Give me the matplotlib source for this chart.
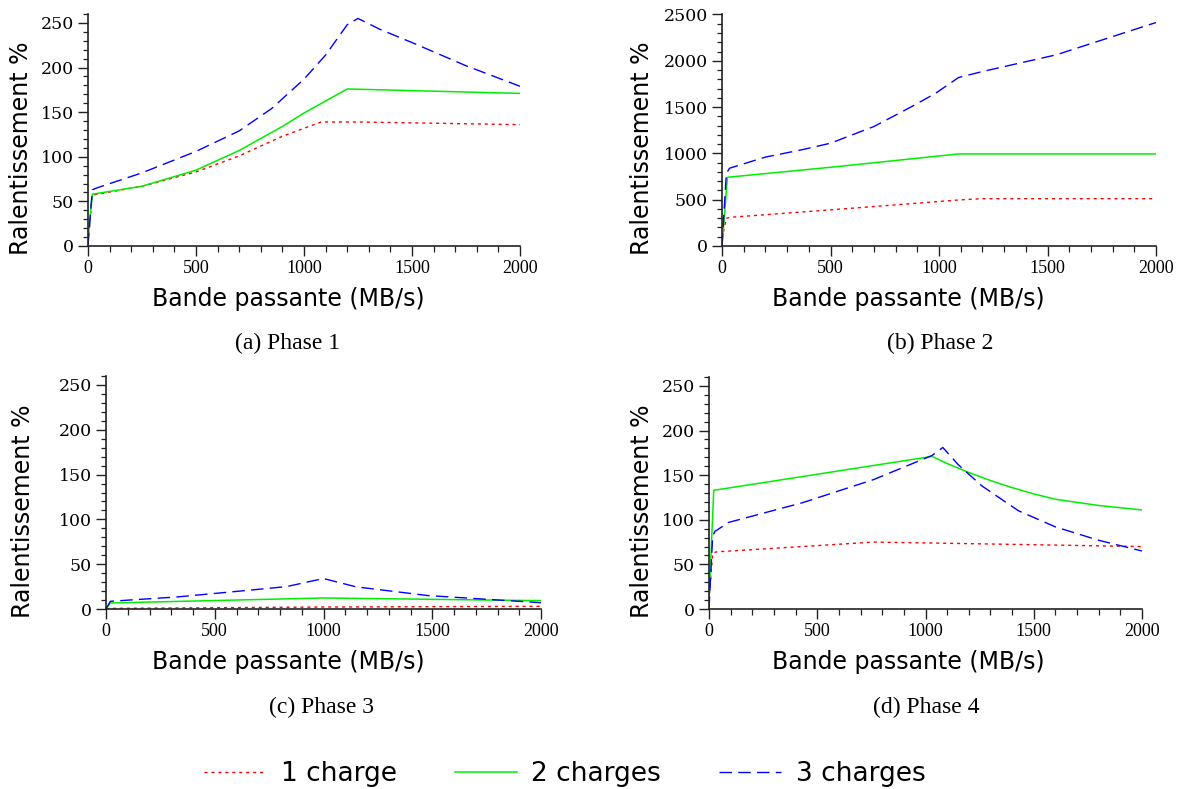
import matplotlib
matplotlib.use('Agg')
import matplotlib.pyplot as plt
from matplotlib.ticker import MultipleLocator

# Phase 1
p1_red_x = [0, 20, 250, 500, 700, 900, 1080, 1250, 2000]
p1_red_y = [5, 57, 67, 83, 101, 123, 139, 139, 136]
p1_green_x = [0, 20, 250, 500, 700, 900, 1000, 1200, 2000]
p1_green_y = [8, 58, 67, 85, 107, 134, 149, 176, 171]
p1_blue_x = [0, 20, 40, 250, 500, 700, 850, 1000, 1100, 1200, 1250, 1350, 1500, 1750, 2000]
p1_blue_y = [0, 63, 65, 82, 106, 129, 154, 187, 214, 248, 255, 243, 228, 202, 179]

# Phase 2
p2_red_x = [0, 20, 40, 500, 1090, 1200, 2000]
p2_red_y = [80, 300, 310, 390, 497, 511, 511]
p2_green_x = [0, 25, 500, 1090, 2000]
p2_green_y = [0, 742, 850, 994, 994]
p2_blue_x = [0, 20, 35, 200, 370, 500, 700, 870, 985, 1090, 1200, 1540, 2000]
p2_blue_y = [0, 785, 840, 960, 1040, 1110, 1290, 1500, 1650, 1819, 1884, 2064, 2413]

# Phase 3
p3_red_x = [0, 20, 1000, 2000]
p3_red_y = [0, 0.7, 2.2, 3]
p3_green_x = [0, 20, 1000, 2000]
p3_green_y = [0, 6.7, 12.3, 9.3]
p3_blue_x = [0, 20, 330, 660, 830, 1000, 1150, 1480, 2000]
p3_blue_y = [0, 8.6, 13.5, 21, 25, 34, 24.7, 15, 7]

# Phase 4
p4_red_x = [0, 17, 33, 430, 760, 1260, 2000]
p4_red_y = [10, 62, 64, 70, 75, 73, 70]
p4_green_x = [0, 22, 1030, 1100, 1200, 1300, 1400, 1500, 1600, 1800, 2000]
p4_green_y = [10, 133, 171, 163, 153, 144, 136, 129, 123, 116, 111]
p4_blue_x = [0, 17, 28, 90, 430, 760, 1030, 1080, 1150, 1260, 1430, 1600, 1800, 2000]
p4_blue_y = [0, 82, 87, 97, 119, 145, 172, 181, 162, 138, 110, 92, 77, 65]

series_labels = ['1 charge', '2 charges', '3 charges']
captions = ['(a) Phase 1', '(b) Phase 2', '(c) Phase 3', '(d) Phase 4']

W, H = 1189, 789
fig = plt.figure(figsize=(W / 100, H / 100), dpi=100)


def px_rect(left, right, top, bottom):
    return [left / W, 1 - bottom / H, (right - left) / W, (bottom - top) / H]


panels = [
    dict(rect=px_rect(88, 520, 14, 246), ymax=260, major=50, minor=10,
         data=(p1_red_x, p1_red_y, p1_green_x, p1_green_y, p1_blue_x, p1_blue_y),
         ylab=-0.127, xlab=0.463, cap=(288, 343)),
    dict(rect=px_rect(722, 1156, 14, 246), ymax=2505, major=500, minor=100,
         data=(p2_red_x, p2_red_y, p2_green_x, p2_green_y, p2_blue_x, p2_blue_y),
         ylab=-0.157, xlab=0.429, cap=(940, 343)),
    dict(rect=px_rect(106, 541, 376, 609), ymax=260, major=50, minor=10,
         data=(p3_red_x, p3_red_y, p3_green_x, p3_green_y, p3_blue_x, p3_blue_y),
         ylab=-0.163, xlab=0.418, cap=(322, 707)),
    dict(rect=px_rect(709, 1142, 377, 609), ymax=260, major=50, minor=10,
         data=(p4_red_x, p4_red_y, p4_green_x, p4_green_y, p4_blue_x, p4_blue_y),
         ylab=-0.127, xlab=0.46, cap=(926, 707)),
]

lines = []
for i, p in enumerate(panels):
    ax = fig.add_axes(p['rect'])
    rx, ry, gx, gy, bx, by = p['data']
    l1, = ax.plot(rx, ry, color='#ff0000', lw=1.0, dashes=(2.2, 2.8), label=series_labels[0])
    l2, = ax.plot(gx, gy, color='#00ee00', lw=1.1, label=series_labels[1])
    l3, = ax.plot(bx, by, color='#0000ff', lw=1.0, dashes=(9, 4.5), label=series_labels[2])
    lines = [l1, l2, l3]

    ax.set_xlim(0, 2000)
    ax.set_ylim(0, p['ymax'])
    ax.xaxis.set_major_locator(MultipleLocator(500))
    ax.xaxis.set_minor_locator(MultipleLocator(100))
    ax.yaxis.set_major_locator(MultipleLocator(p['major']))
    ax.yaxis.set_minor_locator(MultipleLocator(p['minor']))
    for side in ['top', 'right']:
        ax.spines[side].set_visible(False)
    for side in ['left', 'bottom']:
        ax.spines[side].set_linewidth(1.2)
        ax.spines[side].set_color('#222222')
    ax.tick_params(which='major', length=7, width=1.0, color='#222222', pad=3)
    ax.tick_params(which='minor', length=4, width=0.9, color='#222222')
    ax.tick_params(axis='y', which='minor', length=3.5)
    for lab in ax.get_xticklabels():
        lab.set_family('Liberation Serif')
        lab.set_fontsize(13)
    for lab in ax.get_yticklabels():
        lab.set_family('DejaVu Serif')
        lab.set_fontsize(12.5)

    ax.set_xlabel('Bande passante (MB/s)', fontsize=17, family='DejaVu Sans')
    ax.set_ylabel('Ralentissement %', fontsize=17, family='DejaVu Sans')
    ax.xaxis.set_label_coords(p['xlab'], -0.177)
    ax.yaxis.set_label_coords(p['ylab'], 0.42)

    fig.text(p['cap'][0] / W, 1 - p['cap'][1] / H, captions[i], ha='center', va='center',
             fontsize=17, family='Liberation Serif')

fig.legend(lines, series_labels, loc='center', bbox_to_anchor=(0.475, 0.019), ncol=3,
           frameon=False, prop={'family': 'DejaVu Sans', 'size': 19},
           handlelength=2.35, handletextpad=0.55, columnspacing=2.2)

fig.savefig('out.png', dpi=100)
